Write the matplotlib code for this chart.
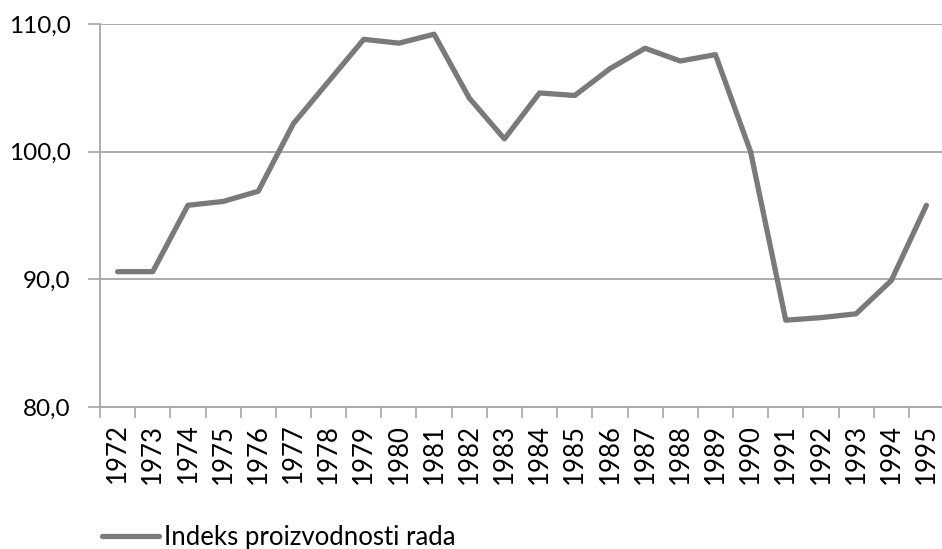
import numpy as np
import matplotlib.pyplot as plt

# Godine i indeks proizvodnosti rada
godine = ['1972', '1973', '1974', '1975', '1976', '1977', '1978', '1979',
          '1980', '1981', '1982', '1983', '1984', '1985', '1986', '1987',
          '1988', '1989', '1990', '1991', '1992', '1993', '1994', '1995']
indeks = [90.6, 90.6, 95.8, 96.1, 96.9, 102.2, 105.5, 108.8,
          108.5, 109.2, 104.2, 101.0, 104.6, 104.4, 106.5, 108.1,
          107.1, 107.6, 100.0, 86.8, 87.0, 87.3, 89.9, 95.8]
y_ticks = [80, 90, 100, 110]
y_labels = ['80,0', '90,0', '100,0', '110,0']

plt.rcParams['font.family'] = ['Lato', 'DejaVu Sans']
plt.rcParams['font.size'] = 18.5

siva = '#a6a6a6'

fig = plt.figure(figsize=(9.42, 5.49), dpi=100)
ax = fig.add_axes([100 / 942, 1 - 407 / 549, 844 / 942, 383 / 549])

x = np.arange(len(godine))
ax.plot(x, indeks, color='#7a7a7a', linewidth=3.8, solid_capstyle='round',
        label='Indeks proizvodnosti rada')

ax.set_xlim(-0.5, len(godine) - 0.5)
ax.set_ylim(80, 110)

# kategorije: kvačice između godina
ax.set_xticks(x)
ax.set_xticklabels(godine, rotation=90)
ax.set_xticks(np.arange(len(godine) + 1) - 0.5, minor=True)
ax.tick_params(axis='x', which='major', length=0, pad=12)
ax.tick_params(axis='x', which='minor', length=8, width=1.2, color=siva, direction='out')

ax.set_yticks(y_ticks)
ax.set_yticklabels(y_labels, fontsize=17.5)
ax.tick_params(axis='y', length=9, width=1.2, color=siva, pad=12)

ax.grid(axis='y', color=siva, linewidth=1.3)
ax.set_axisbelow(True)

for s in ['top', 'right']:
    ax.spines[s].set_visible(False)
for s in ['left', 'bottom']:
    ax.spines[s].set_color(siva)
    ax.spines[s].set_linewidth(1.3)

fig.legend(loc='center left', bbox_to_anchor=(102 / 942, 1 - 537 / 549),
           frameon=False, borderpad=0, borderaxespad=0,
           handlelength=2.2, handletextpad=0.2)

fig.savefig('out.png', dpi=100)
